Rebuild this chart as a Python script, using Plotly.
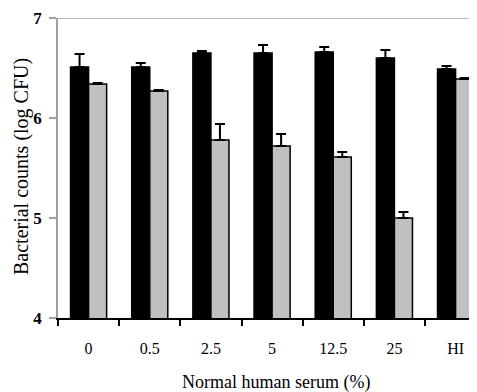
import plotly.graph_objects as go

categories = ["0", "0.5", "2.5", "5", "12.5", "25", "HI"]
black_vals = [6.51, 6.51, 6.65, 6.65, 6.66, 6.60, 6.49]
black_err = [0.13, 0.04, 0.02, 0.08, 0.05, 0.08, 0.03]
gray_vals = [6.34, 6.27, 5.78, 5.72, 5.61, 5.00, 6.39]
gray_err = [0.01, 0.01, 0.16, 0.12, 0.05, 0.06, 0.01]

FONT = "Liberation Serif, Times New Roman, serif"

fig = go.Figure()
fig.add_trace(go.Bar(
    x=categories, y=black_vals,
    marker=dict(color="#000000", line=dict(color="#000000", width=1.5)),
    error_y=dict(type="data", array=black_err, symmetric=False, arrayminus=[0]*7,
                 color="#000000", thickness=2, width=5),
    showlegend=False,
))
fig.add_trace(go.Bar(
    x=categories, y=gray_vals,
    marker=dict(color="#c0c0c0", line=dict(color="#000000", width=1.5)),
    error_y=dict(type="data", array=gray_err, symmetric=False, arrayminus=[0]*7,
                 color="#000000", thickness=2, width=5),
    showlegend=False,
))

# page body has an 8px default margin; compensate so the plot sits where the reference has it
fig.update_layout(
    width=469, height=384,
    margin=dict(l=50, r=0, t=10, b=74),
    paper_bgcolor="white", plot_bgcolor="white",
    barmode="group", bargap=0.41, bargroupgap=0,
    font=dict(family=FONT, color="#000000"),
    xaxis=dict(
        type="category", range=[-0.5, 6.35], automargin=False,
        showline=True, linecolor="#000000", linewidth=1.5,
        ticks="outside", ticklen=6, tickwidth=1.5, tickcolor="#000000",
        tickson="boundaries", showgrid=False,
        tickfont=dict(family=FONT, size=16, color="#000000"),
        ticklabelstandoff=15,
    ),
    yaxis=dict(
        range=[4, 7], tickvals=[4, 5, 6, 7], automargin=False,
        showline=True, linecolor="#a0a0a0", linewidth=1.5,
        ticks="outside", ticklen=7, tickwidth=1.5, tickcolor="#a0a0a0",
        showgrid=False, zeroline=False,
        tickfont=dict(family=FONT, size=17, color="#000000", weight="bold"),
        ticklabelstandoff=4,
    ),
    shapes=[dict(type="line", xref="paper", yref="y", x0=0, x1=1, y0=7, y1=7,
                 line=dict(color="#a0a0a0", width=1.5))],
    annotations=[
        dict(text="Bacterial counts (log CFU)", xref="paper", yref="paper",
             x=(21-58)/419, y=(318-167)/300, textangle=-90, showarrow=False,
             xanchor="center", yanchor="middle",
             font=dict(family=FONT, size=20, color="#000000")),
        dict(text="Normal human serum (%)", xref="paper", yref="paper",
             x=(276-58)/419, y=-(382-318)/300, showarrow=False,
             xanchor="center", yanchor="middle",
             font=dict(family=FONT, size=18, color="#000000")),
    ],
)

fig.write_html("out.html")
